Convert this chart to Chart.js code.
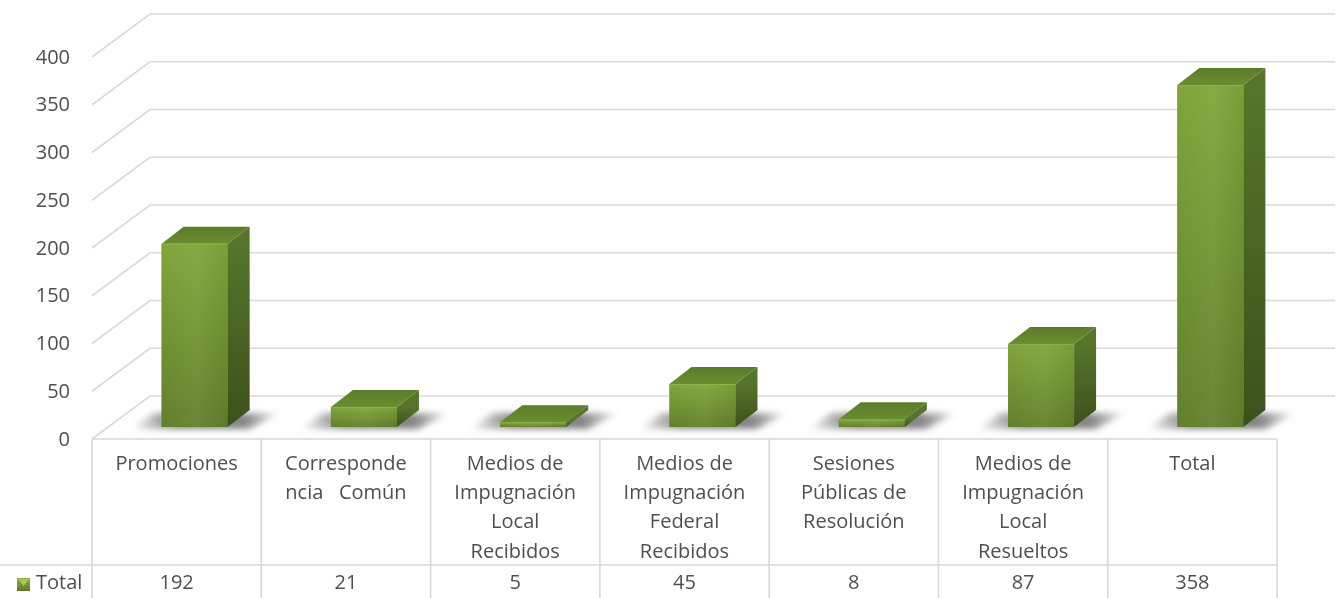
<!DOCTYPE html>
<html>
<head>
<meta charset="utf-8">
<script src="https://cdn.jsdelivr.net/npm/chart.js@4"></script>
<style>
    html, body { margin: 0; padding: 0; background: #ffffff; }
    #wrap { width: 1341px; height: 598px; position: relative; }
</style>
</head>
<body>
<div id="wrap"><canvas id="bar"></canvas></div>
<script>
// DATA
const categories = [
    ['Promociones'],
    ['Corresponde', 'ncia   Común'],
    ['Medios de', 'Impugnación', 'Local', 'Recibidos'],
    ['Medios de', 'Impugnación', 'Federal', 'Recibidos'],
    ['Sesiones', 'Públicas de', 'Resolución'],
    ['Medios de', 'Impugnación', 'Local', 'Resueltos'],
    ['Total']
];
const seriesName = 'Total';
const totals = [192, 21, 5, 45, 8, 87, 358];
const yTicks = [0, 50, 100, 150, 200, 250, 300, 350, 400];

// 3D offsets (relative to the plane the bars stand in)
const FRONT_DX = -18, FRONT_DY = 12;
const BACK_DX = 40, BACK_DY = -31;
const DEPTH_X = 22, DEPTH_Y = -17;

const TEXT_COLOR = '#4f4f4f';
const GRID_COLOR = '#d9d9d9';
const FONT = '20px "Open Sans"';

function polygon(c, pts) {
    c.beginPath();
    c.moveTo(pts[0][0], pts[0][1]);
    for (let i = 1; i < pts.length; i++) c.lineTo(pts[i][0], pts[i][1]);
    c.closePath();
}

const threeD = {
    id: 'threeD',
    beforeDatasetsDraw(chart) {
        const c = chart.ctx;
        const area = chart.chartArea;
        const y = chart.scales.y;
        const x = chart.scales.x;
        c.save();

        // walls: diagonal + back gridlines
        c.strokeStyle = GRID_COLOR;
        c.lineWidth = 1.6;
        yTicks.forEach(v => {
            const py = y.getPixelForValue(v);
            c.beginPath();
            c.moveTo(area.left + FRONT_DX, py + FRONT_DY);
            c.lineTo(area.left + BACK_DX, py + BACK_DY);
            c.lineTo(area.right + BACK_DX, py + BACK_DY);
            c.stroke();
        });

        // y tick labels on the front plane
        c.fillStyle = TEXT_COLOR;
        c.font = FONT;
        c.textAlign = 'right';
        c.textBaseline = 'middle';
        yTicks.forEach(v => {
            c.fillText(String(v), 70, y.getPixelForValue(v) + FRONT_DY + 1);
        });

        // floor shadows
        const meta = chart.getDatasetMeta(0);
        meta.data.forEach(bar => {
            const p = bar.getProps(['x', 'base', 'width'], true);
            const l = p.x - p.width / 2, r = p.x + p.width / 2;
            const b = p.base;
            const g = c.createLinearGradient(l - 30, 0, r + DEPTH_X + 30, 0);
            g.addColorStop(0, 'rgba(0,0,0,0)');
            g.addColorStop(0.3, 'rgba(50,50,50,0.6)');
            g.addColorStop(0.75, 'rgba(50,50,50,0.6)');
            g.addColorStop(1, 'rgba(0,0,0,0)');
            c.save();
            c.filter = 'blur(3px)';
            c.fillStyle = g;
            polygon(c, [[l - 30, b + 2], [r + 22, b + 2], [r + DEPTH_X + 30, b + DEPTH_Y + 3], [l + DEPTH_X - 30, b + DEPTH_Y + 3]]);
            c.fill();
            c.restore();
        });

        // data table
        const base = y.getPixelForValue(0) + FRONT_DY;
        const half = (x.getPixelForValue(1) - x.getPixelForValue(0)) / 2;
        const left = x.getPixelForValue(0) - half + FRONT_DX;
        const right = x.getPixelForValue(categories.length - 1) + half + FRONT_DX;
        const rowY = 565, bottom = 598;
        c.strokeStyle = GRID_COLOR;
        c.lineWidth = 1.6;
        c.beginPath();
        c.moveTo(left, base); c.lineTo(right, base);
        c.moveTo(0, rowY); c.lineTo(right, rowY);
        for (let i = 0; i <= categories.length; i++) {
            const bx = left + i * half * 2;
            c.moveTo(bx, base); c.lineTo(bx, bottom);
        }
        c.stroke();

        c.fillStyle = TEXT_COLOR;
        c.textAlign = 'center';
        categories.forEach((lines, i) => {
            const cx = x.getPixelForValue(i) + FRONT_DX;
            lines.forEach((t, k) => c.fillText(t, cx, 464 + k * 29.3));
            c.fillText(String(totals[i]), cx, 583);
        });

        // legend key + series name
        const kg = c.createLinearGradient(0, 578, 0, 591);
        kg.addColorStop(0, '#8db046');
        kg.addColorStop(1, '#5a7a26');
        c.fillStyle = kg;
        c.fillRect(17, 578, 13, 13);
        c.fillStyle = '#a6c75a';
        polygon(c, [[18, 579], [29, 579], [23.5, 586]]);
        c.fill();
        c.fillStyle = TEXT_COLOR;
        c.textAlign = 'left';
        c.fillText(seriesName, 36, 583);
        c.restore();
    },
    afterDatasetsDraw(chart) {
        const c = chart.ctx;
        const meta = chart.getDatasetMeta(0);
        c.save();
        meta.data.forEach(bar => {
            const p = bar.getProps(['x', 'y', 'base', 'width'], true);
            const l = p.x - p.width / 2, r = p.x + p.width / 2;
            const t = p.y, b = p.base;

            // front face gradient
            const fg = c.createLinearGradient(0, t, 0, b);
            fg.addColorStop(0, '#80a53a');
            fg.addColorStop(1, '#62802b');
            c.fillStyle = fg;
            c.fillRect(l, t, r - l, b - t);
            const hg = c.createLinearGradient(l, 0, r, 0);
            hg.addColorStop(0, 'rgba(255,255,255,0)');
            hg.addColorStop(0.55, 'rgba(255,255,255,0.05)');
            hg.addColorStop(1, 'rgba(0,0,0,0.04)');
            c.fillStyle = hg;
            c.fillRect(l, t, r - l, b - t);

            // side face
            const sg = c.createLinearGradient(0, t, 0, b);
            sg.addColorStop(0, '#56752b');
            sg.addColorStop(1, '#3b511b');
            c.fillStyle = sg;
            polygon(c, [[r, t], [r + DEPTH_X, t + DEPTH_Y], [r + DEPTH_X, b + DEPTH_Y], [r, b]]);
            c.fill();

            // top face
            const tg = c.createLinearGradient(0, t, 0, t + DEPTH_Y);
            tg.addColorStop(0, '#6a8d30');
            tg.addColorStop(1, '#5b7c29');
            c.fillStyle = tg;
            polygon(c, [[l, t], [l + DEPTH_X, t + DEPTH_Y], [r + DEPTH_X, t + DEPTH_Y], [r, t]]);
            c.fill();
            c.strokeStyle = 'rgba(150,190,80,0.6)';
            c.lineWidth = 1;
            c.beginPath();
            c.moveTo(l, t + 0.5); c.lineTo(r, t + 0.5);
            c.stroke();
        });
        c.restore();
    }
};

const barCtx = document.getElementById('bar').getContext('2d');

new Chart(barCtx, {
    type: 'bar',
    data: {
        labels: categories,
        datasets: [{
            label: seriesName,
            data: totals,
            backgroundColor: '#73962f',
            borderWidth: 0,
            barPercentage: 0.39,
            categoryPercentage: 1
        }]
    },
    options: {
        responsive: true,
        maintainAspectRatio: false,
        animation: false,
        layout: {
            padding: { left: 110, right: 46, top: 45, bottom: 171 }
        },
        plugins: {
            legend: { display: false },
            tooltip: { enabled: false }
        },
        scales: {
            x: { display: false },
            y: {
                display: false,
                min: 0,
                max: 400,
                ticks: { stepSize: 50 }
            }
        }
    },
    plugins: [threeD]
});
</script>
</body>
</html>
